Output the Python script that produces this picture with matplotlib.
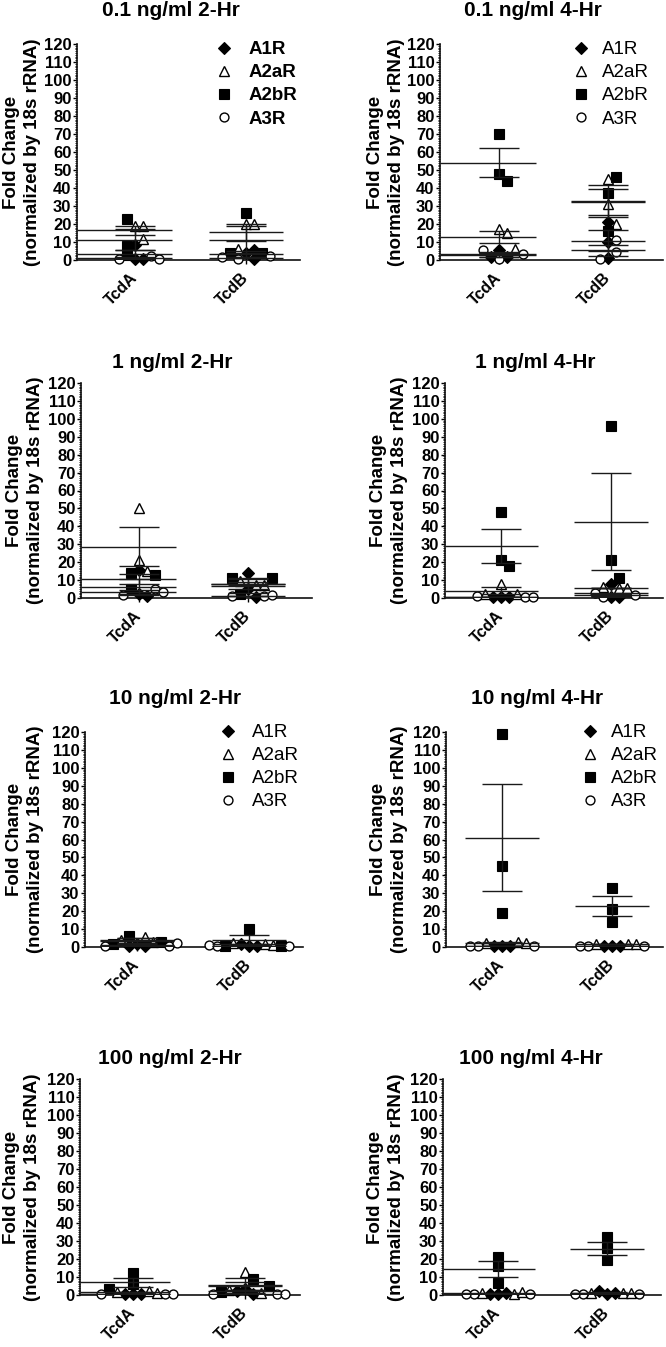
import numpy as np
import matplotlib
matplotlib.use("Agg")
import matplotlib.pyplot as plt
from matplotlib.ticker import MultipleLocator
from matplotlib.lines import Line2D

plt.rcParams['font.family'] = ['Liberation Sans', 'DejaVu Sans']

W, H, DPI = 666, 1347, 100

# ---------------- data ----------------
titles = ['0.1 ng/ml 2-Hr', '0.1 ng/ml 4-Hr', '1 ng/ml 2-Hr', '1 ng/ml 4-Hr',
          '10 ng/ml 2-Hr', '10 ng/ml 4-Hr', '100 ng/ml 2-Hr', '100 ng/ml 4-Hr']
categories = ['TcdA', 'TcdB']
receptors = ['A1R', 'A2aR', 'A2bR', 'A3R']
y_ticks = list(range(0, 121, 10))
ylabel_text = 'Fold Change\n(normalized by 18s rRNA)'

# each list: [TcdA values, TcdB values]
d01_2h_A1R = [[8.5, 0.5, 0.5], [4.0, 5.5, 0.5]]
d01_2h_A2aR = [[19, 19, 11.5], [20, 20, 6]]
d01_2h_A2bR = [[23, 8, 3], [26, 4, 4]]
d01_2h_A3R = [[2, 0.5, 0.5], [2, 0.5, 1.5]]

d01_4h_A1R = [[5.5, 1.5, 1.5], [21, 10, 1]]
d01_4h_A2aR = [[17, 15, 6], [45, 31, 20]]
d01_4h_A2bR = [[70, 48, 44], [46, 37, 16]]
d01_4h_A3R = [[0.5, 5.5, 3.5], [11, 4.5, 0.5]]

d1_2h_A1R = [[15.5, 2, 1], [14, 5, 0.5]]
d1_2h_A2aR = [[50, 21, 15], [7, 9.5, 7]]
d1_2h_A2bR = [[14, 13, 5], [11, 11, 2]]
d1_2h_A3R = [[5, 1.5, 3.5], [1, 1, 1.5]]

d1_4h_A1R = [[0.5, 0.3, 0.5], [8, 0.5, 0.5]]
d1_4h_A2aR = [[8, 2, 2.5], [5.5, 6, 5.5]]
d1_4h_A2bR = [[48, 21, 18], [96, 21, 11]]
d1_4h_A3R = [[0.5, 1, 0.5], [3, 1.5, 0.5]]

d10_2h_A1R = [[1.5, 0.3, 0.5], [0.5, 0.3, 1.5]]
d10_2h_A2aR = [[5.5, 3, 4], [1.5, 2, 1]]
d10_2h_A2bR = [[6, 3, 1.5], [10, 0.5, 0.5]]
d10_2h_A3R = [[0.3, 0.5, 2], [0.5, 0.5, 1]]

d10_4h_A1R = [[0.5, 0.3, 0.5], [0.3, 0.5, 0.5]]
d10_4h_A2aR = [[3, 2, 2], [1.5, 1.5, 1.5]]
d10_4h_A2bR = [[119, 45, 19], [33, 21, 14]]
d10_4h_A3R = [[0.5, 0.5, 0.5], [0.5, 0.5, 0.5]]

d100_2h_A1R = [[0.3, 0.5, 0.5], [3.5, 0.5, 2]]
d100_2h_A2aR = [[2, 1.5, 1], [13, 1, 3]]
d100_2h_A2bR = [[12, 6, 3.5], [9, 5, 1.5]]
d100_2h_A3R = [[0.5, 0.3, 0.5], [0.3, 0.5, 0.5]]

d100_4h_A1R = [[0.5, 1, 0.5], [0.5, 1, 2]]
d100_4h_A2aR = [[0.5, 1, 1.5], [1, 1, 1]]
d100_4h_A2bR = [[21, 16, 6.5], [32, 26, 19.5]]
d100_4h_A3R = [[0.5, 0.5, 0.5], [0.5, 0.5, 0.5]]

panel_data = [
    [d01_2h_A1R, d01_2h_A2aR, d01_2h_A2bR, d01_2h_A3R],
    [d01_4h_A1R, d01_4h_A2aR, d01_4h_A2bR, d01_4h_A3R],
    [d1_2h_A1R, d1_2h_A2aR, d1_2h_A2bR, d1_2h_A3R],
    [d1_4h_A1R, d1_4h_A2aR, d1_4h_A2bR, d1_4h_A3R],
    [d10_2h_A1R, d10_2h_A2aR, d10_2h_A2bR, d10_2h_A3R],
    [d10_4h_A1R, d10_4h_A2aR, d10_4h_A2bR, d10_4h_A3R],
    [d100_2h_A1R, d100_2h_A2aR, d100_2h_A2bR, d100_2h_A3R],
    [d100_4h_A1R, d100_4h_A2aR, d100_4h_A2bR, d100_4h_A3R],
]

# ---------------- layout / style ----------------
axes_px = [(77, 300, 44, 260), (440, 663, 44, 260),
           (81, 312, 383, 598), (445, 663, 383, 598),
           (85, 303, 732, 947), (446, 663, 732, 947),
           (80, 300, 1079, 1295), (443, 661, 1079, 1295)]
center_px = [(135, 246), (499, 608), (139, 248), (501, 611),
             (137, 249), (502, 612), (133, 245), (498, 607)]
title_px = [(171, 10), (533, 10), (172, 362), (535, 362),
            (175, 698), (537, 699), (170, 1058), (531, 1059)]
ylabel_x_px = [22, 386, 25, 389, 25, 389, 22, 386]
# legend: panel -> (left px, top px, handletextpad, bold)
legend_cfg = {0: (216, 41, 0.85, True), 1: (573, 41, 0.62, False),
              4: (220, 724, 0.8, False), 5: (582, 724, 0.62, False)}
tcda_line_to_axis = [True, True, True, True, False, False, True, True]

styles = {
    'A1R': dict(marker='D', ms=5.8, mfc='black', mec='black', mew=0.8),
    'A2aR': dict(marker='^', ms=7.0, mfc='white', mec='black', mew=1.0),
    'A2bR': dict(marker='s', ms=6.8, mfc='black', mec='black', mew=0.8),
    'A3R': dict(marker='o', ms=6.4, mfc='white', mec='black', mew=1.0),
}
LINE_C = '#1a1a1a'
MEAN_HW_PX = 37
CAP_HW_PX = 20


def swarm(ys_px, dx=7.5, dy=8.5, step=1.0):
    placed = []
    offs = []
    for y in ys_px:
        k = 0
        found = None
        while found is None:
            cands = [0.0] if k == 0 else [k * step, -k * step]
            for x in cands:
                ok = True
                for (px, py) in placed:
                    if abs(x - px) < dx and abs(y - py) < dy:
                        ok = False
                        break
                if ok:
                    found = x
                    break
            k += 1
        placed.append((found, y))
        offs.append(found)
    return np.array(offs)


fig = plt.figure(figsize=(W / DPI, H / DPI), dpi=DPI)

for i, (l, r, t, b) in enumerate(axes_px):
    ax = fig.add_axes([l / W, 1 - b / H, (r - l) / W, (b - t) / H])
    c1, c2 = center_px[i]
    s = c2 - c1
    xl = 1 - (c1 - l) / s
    xr = 2 + (r - c2) / s
    ax.set_xlim(xl, xr)
    ax.set_ylim(0, 120)
    ppu_y = (b - t) / 120.0

    for ci in range(2):
        xc = ci + 1
        vals = []
        grp = []
        for gi, rec in enumerate(receptors):
            for v in panel_data[i][gi][ci]:
                vals.append(v)
                grp.append(gi)
        vals = np.array(vals)
        grp = np.array(grp)
        offs = swarm(vals * ppu_y) / s
        for gi, rec in enumerate(receptors):
            m = grp == gi
            ax.plot(xc + offs[m], vals[m], ls='none', clip_on=False,
                    zorder=3, **styles[rec])
        # mean and SEM per receptor
        for gi, rec in enumerate(receptors):
            v = np.array(panel_data[i][gi][ci], dtype=float)
            mu = v.mean()
            sem = v.std(ddof=1) / np.sqrt(len(v))
            left = xc - MEAN_HW_PX / s
            if ci == 0 and tcda_line_to_axis[i]:
                left = xl
            ax.hlines(mu, left, xc + MEAN_HW_PX / s, colors=LINE_C, lw=1.0, zorder=4)
            ax.hlines([mu - sem, mu + sem], xc - CAP_HW_PX / s, xc + CAP_HW_PX / s,
                      colors=LINE_C, lw=1.0, zorder=4)
            ax.vlines(xc, mu - sem, mu + sem, colors=LINE_C, lw=1.0, zorder=4)

    for sp in ['top', 'right']:
        ax.spines[sp].set_visible(False)
    for sp in ['left', 'bottom']:
        ax.spines[sp].set_linewidth(1.2)
        ax.spines[sp].set_color('#111111')

    ax.set_yticks(y_ticks)
    ax.set_yticklabels([str(v) for v in y_ticks], fontsize=12, fontweight='bold')
    ax.yaxis.set_minor_locator(MultipleLocator(1))
    ax.tick_params(axis='y', which='major', length=3, width=1.0, pad=1)
    ax.tick_params(axis='y', which='minor', length=1.6, width=0.6)
    ax.set_xticks([1, 2])
    ax.set_xticklabels(categories, fontsize=11.5, fontweight='bold',
                       rotation=45, ha='right', va='center', rotation_mode='anchor')
    ax.tick_params(axis='x', which='major', length=3, width=1.0, pad=8)

    ax.set_ylabel(ylabel_text, fontsize=13.5, fontweight='bold', linespacing=1.25)
    ax.yaxis.set_label_coords((ylabel_x_px[i] - l) / (r - l), 0.5)
    ax.yaxis.label.set_verticalalignment('center')

    tx, ty = title_px[i]
    fig.text(tx / W, 1 - ty / H, titles[i], fontsize=15, fontweight='bold',
             ha='center', va='center')

    if i in legend_cfg:
        lx, ly, htp, bold = legend_cfg[i]
        handles = [Line2D([], [], ls='none', **styles[rec]) for rec in receptors]
        ax.legend(handles, receptors, loc='upper left',
                  bbox_to_anchor=(lx / W, 1 - ly / H), bbox_transform=fig.transFigure,
                  frameon=False, borderpad=0, borderaxespad=0,
                  handlelength=0.9, handletextpad=htp, labelspacing=0.32,
                  prop={'size': 13.5, 'weight': 'bold' if bold else 'normal'})

fig.savefig('out.png', dpi=DPI)
